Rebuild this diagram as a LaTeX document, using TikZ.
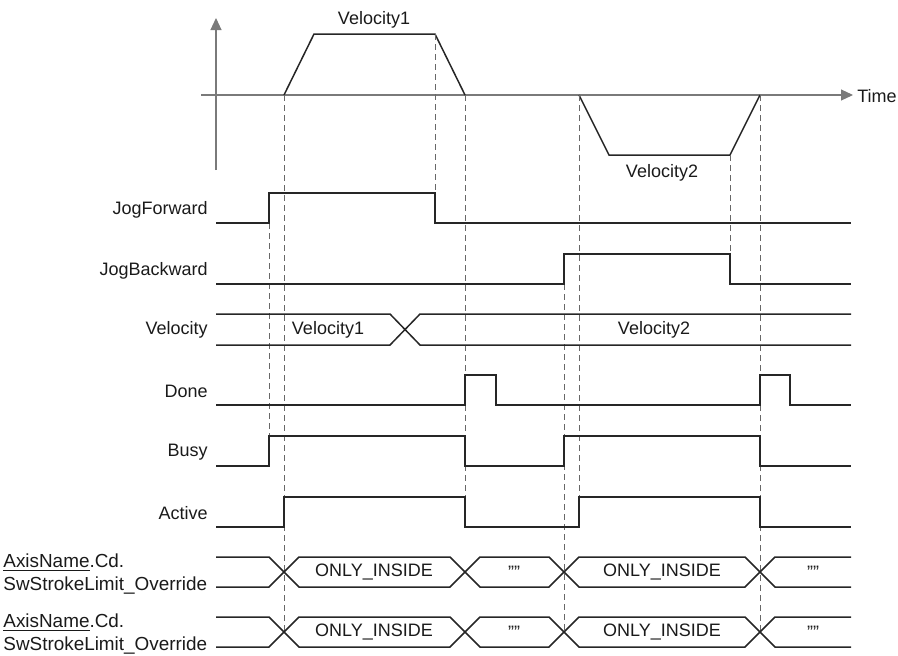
\documentclass[tikz,border=0pt]{standalone}
\usepackage{fontspec}
\setmainfont{Liberation Sans}
\usetikzlibrary{arrows.meta}
\definecolor{sigc}{HTML}{262626}
\definecolor{axc}{HTML}{7A7A7A}
\definecolor{txtc}{HTML}{1A1A1A}
\tikzset{
  sig/.style={draw=sigc, line width=0.75pt, line join=miter},
  axisline/.style={draw=axc, line width=0.55pt},
  guide/.style={draw=axc!85!black, line width=0.5pt, dash pattern=on 3pt off 2pt},
  lbl/.style={anchor=east, inner sep=0pt, text=txtc, font=\fontsize{9}{10}\selectfont},
  val/.style={inner sep=0pt, text=txtc, font=\fontsize{9}{10}\selectfont},
  two/.style={anchor=west, align=left, inner sep=0pt, text=txtc, font=\fontsize{9.45}{11.5}\selectfont}
}
\begin{document}
\begin{tikzpicture}[x=0.5pt, y=-0.5pt]
\useasboundingbox (0,0) rectangle (898,655);

% axes
\draw[axisline, -{Triangle[length=6pt, width=5.5pt]}] (216,170) -- (216,18);
\draw[axisline, -{Triangle[length=6pt, width=5.5pt]}] (201,95) -- (853,95);
\node[val, anchor=west] (time) at (857,96) {Time};

% velocity profile
\draw[sig] (284,95) -- (314,34) -- (435,34) -- (465,95);
\draw[sig] (579,95) -- (609,155) -- (730,155) -- (760,95);
\node[val] (v1top) at (374,20) {Velocity1};
\node[val] (v2bot) at (662,173) {Velocity2};

% guide lines
\draw[guide] (269,223) -- (269,436);
\draw[guide] (284,95) -- (284,632);
\draw[guide] (435,34) -- (435,193);
\draw[guide] (465,95) -- (465,527);
\draw[guide] (564,284) -- (564,632);
\draw[guide] (579,95) -- (579,497);
\draw[guide] (730,155) -- (730,284);
\draw[guide] (760,95) -- (760,632);

% labels
\node[lbl] (ljf) at (208,210) {JogForward};
\node[lbl] (ljb) at (208,271) {JogBackward};
\node[lbl] (lvel) at (208,330) {Velocity};
\node[lbl] (ldone) at (208,391) {Done};
\node[lbl] (lbusy) at (208,452) {Busy};
\node[lbl] (lact) at (208,513) {Active};
\node[two] (lax1) at (3,574) {\underline{AxisName}.Cd.\\SwStrokeLimit\_Override};
\node[two] (lax2) at (3,634) {\underline{AxisName}.Cd.\\SwStrokeLimit\_Override};

% JogForward
\draw[sig] (216,223) -- (269,223) -- (269,193) -- (435,193) -- (435,223) -- (851,223);
% JogBackward
\draw[sig] (216,284) -- (564,284) -- (564,254) -- (730,254) -- (730,284) -- (851,284);
% Velocity bus
\draw[sig] (216,314) -- (390,314) -- (420,345) -- (851,345);
\draw[sig] (216,345) -- (390,345) -- (420,314) -- (851,314);
\node[val] (bv1) at (328,330) {Velocity1};
\node[val] (bv2) at (654,330) {Velocity2};
% Done
\draw[sig] (216,405) -- (465,405) -- (465,375) -- (496,375) -- (496,405) -- (760,405) -- (760,375) -- (790,375) -- (790,405) -- (851,405);
% Busy
\draw[sig] (216,466) -- (269,466) -- (269,436) -- (465,436) -- (465,466) -- (564,466) -- (564,436) -- (760,436) -- (760,466) -- (851,466);
% Active
\draw[sig] (216,527) -- (284,527) -- (284,497) -- (465,497) -- (465,527) -- (579,527) -- (579,497) -- (760,497) -- (760,527) -- (851,527);

% bus 1
\draw[sig] (216,557) -- (269,557) -- (299,587) -- (450,587) -- (480,557) -- (549,557) -- (579,587) -- (745,587) -- (775,557) -- (851,557);
\draw[sig] (216,587) -- (269,587) -- (299,557) -- (450,557) -- (480,587) -- (549,587) -- (579,557) -- (745,557) -- (775,587) -- (851,587);
\node[val] (b1a) at (374,572) {ONLY\_INSIDE};
\node[val] (b1b) at (514,572) {""};
\node[val] (b1c) at (662,572) {ONLY\_INSIDE};
\node[val] (b1d) at (813,572) {""};

% bus 2
\draw[sig] (216,617) -- (269,617) -- (299,647) -- (450,647) -- (480,617) -- (549,617) -- (579,647) -- (745,647) -- (775,617) -- (851,617);
\draw[sig] (216,647) -- (269,647) -- (299,617) -- (450,617) -- (480,647) -- (549,647) -- (579,617) -- (745,617) -- (775,647) -- (851,647);
\node[val] (b2a) at (374,632) {ONLY\_INSIDE};
\node[val] (b2b) at (514,632) {""};
\node[val] (b2c) at (662,632) {ONLY\_INSIDE};
\node[val] (b2d) at (813,632) {""};
\end{tikzpicture}
\end{document}
